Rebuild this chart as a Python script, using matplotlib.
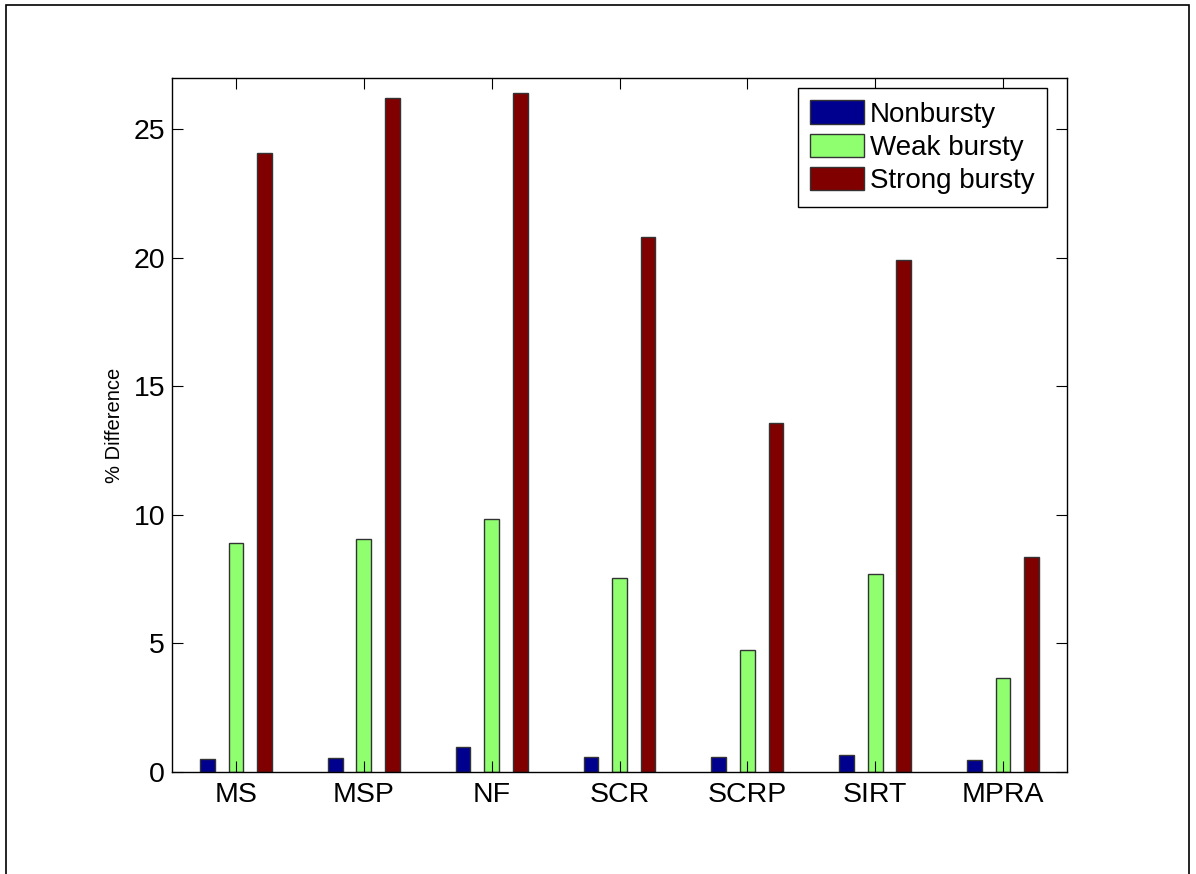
import matplotlib.pyplot as plt
import matplotlib.patches as mpatches
import numpy as np

plt.rcParams['font.family'] = ['Liberation Sans', 'DejaVu Sans']

methods = ['MS', 'MSP', 'NF', 'SCR', 'SCRP', 'SIRT', 'MPRA']
nonbursty = [0.49, 0.54, 0.98, 0.58, 0.57, 0.65, 0.48]
weak_bursty = [8.9, 9.06, 9.84, 7.54, 4.74, 7.7, 3.65]
strong_bursty = [24.07, 26.24, 26.4, 20.8, 13.57, 19.9, 8.36]

series = [('Nonbursty', nonbursty, '#00008F'),
          ('Weak bursty', weak_bursty, '#8FFF70'),
          ('Strong bursty', strong_bursty, '#800000')]

fig = plt.figure(figsize=(11.96, 8.74), dpi=100)
ax = fig.add_axes([172/1196, 1 - 772/874, (1067-172)/1196, (772-78)/874])

x = np.arange(1, len(methods) + 1)
offset = 0.223
width = 0.115
for i, (name, vals, col) in enumerate(series):
    ax.bar(x + (i - 1)*offset, vals, width, color=col, edgecolor='#333333',
           linewidth=1.0, label=name)

ax.set_xlim(0.5, 7.5)
ax.set_ylim(0, 27)
ax.set_xticks(x)
ax.set_xticklabels(methods)
ax.set_yticks([0, 5, 10, 15, 20, 25])
ax.tick_params(direction='in', length=8, width=0.8, labelsize=20.5,
               top=True, right=True)
ax.tick_params(axis='x', pad=7)
ax.tick_params(axis='y', pad=5)
for s in ax.spines.values():
    s.set_linewidth(1.0)
ax.set_ylabel('% Difference', fontsize=14.5, labelpad=7)

leg = ax.legend(loc='upper right', bbox_to_anchor=(1 - 20/895, 1 - 10/694),
                borderaxespad=0, fontsize=20, fancybox=False,
                edgecolor='black', framealpha=1, handlelength=1.95,
                handleheight=0.9, handletextpad=0.2, labelspacing=0.22,
                borderpad=0.45)
leg.get_frame().set_linewidth(1.0)

# figure border
fig.patches.append(mpatches.Rectangle((6/1196, -0.1), (1189-6)/1196, 1.1 - 5/874,
                                      transform=fig.transFigure, fill=False,
                                      edgecolor='black', linewidth=1.2))

fig.savefig('out.png', dpi=100)
